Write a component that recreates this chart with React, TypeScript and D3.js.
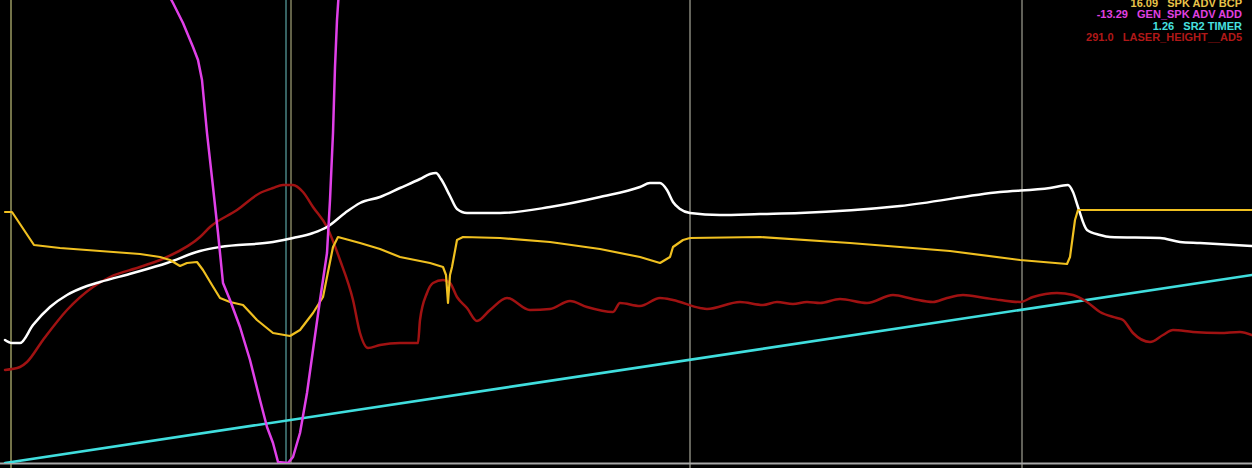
import React from 'react';
import * as d3 from 'd3';

const W = 1252;
const H = 468;

// time (samples) vs. trace level (arbitrary units)
const whiteTrace: [number, number][] = [
  [0, 123], [7, 120], [15, 120], [28, 138], [45, 156], [62, 168], [82, 177], [95, 181], [128, 190],
  [162, 200], [195, 212], [215, 216], [268, 221], [288, 225], [308, 230], [322, 236], [340, 250],
  [355, 260], [375, 266], [395, 275], [415, 284], [425, 289], [431, 290], [436, 284], [445, 267],
  [452, 254], [462, 250], [495, 250], [545, 256], [595, 266], [635, 276], [645, 280], [655, 280],
  [662, 273], [668, 261], [675, 254], [685, 250], [715, 248], [755, 249], [795, 250], [895, 257],
  [995, 271], [1045, 275], [1063, 278], [1068, 271], [1073, 256], [1082, 233], [1095, 228],
  [1105, 226], [1155, 225], [1175, 221], [1195, 220], [1247, 217],
];

const spkAdvBcp: [number, number][] = [
  [0, 251], [7, 251], [29, 218], [55, 215], [95, 212], [135, 209], [155, 206], [165, 203], [175, 197],
  [182, 200], [192, 201], [198, 193], [207, 178], [215, 165], [225, 161], [238, 158], [252, 143],
  [268, 130], [285, 127], [295, 133], [308, 150], [318, 166], [328, 216], [333, 226], [355, 220],
  [375, 214], [395, 206], [425, 200], [438, 196], [441, 188], [443, 160], [445, 188], [447, 196],
  [452, 223], [458, 226], [495, 225], [545, 221], [595, 214], [635, 206], [655, 200], [665, 206],
  [668, 216], [678, 223], [685, 225], [755, 226], [845, 220], [945, 212], [1015, 203], [1062, 199],
  [1065, 206], [1070, 243], [1073, 253], [1247, 253],
];

const genSpkAdvAdd: [number, number][] = [
  [161, 473], [168, 460], [178, 440], [188, 416], [193, 403], [197, 383], [202, 330], [208, 276],
  [213, 230], [218, 180], [225, 163], [235, 136], [245, 103], [255, 63], [262, 36], [268, 20],
  [273, 1], [283, 0], [288, 6], [295, 30], [302, 70], [308, 113], [315, 163], [322, 210], [325, 263],
  [328, 330], [330, 396], [332, 443], [334, 473],
];

const sr2Timer: [number, number][] = [[0, 0], [1247, 188]];

const laserHeight: [number, number][] = [
  [0, 93], [15, 96], [22, 101], [38, 123], [62, 153], [88, 176], [105, 186], [135, 196], [162, 206],
  [195, 226], [205, 236], [232, 253], [255, 270], [268, 275], [278, 278], [288, 278], [298, 271],
  [308, 256], [322, 236], [335, 203], [348, 163], [355, 130], [363, 115], [375, 118], [395, 120],
  [413, 120], [415, 143], [422, 170], [428, 180], [438, 183], [445, 180], [452, 166], [462, 155],
  [472, 142], [485, 153], [502, 165], [525, 153], [545, 154], [565, 162], [582, 156], [608, 151],
  [615, 160], [635, 157], [655, 165], [668, 163], [695, 155], [702, 154], [735, 161], [758, 158],
  [772, 161], [788, 159], [802, 161], [815, 160], [835, 164], [862, 160], [888, 168], [908, 164],
  [928, 161], [942, 165], [958, 168], [980, 165], [995, 163], [1015, 161], [1028, 166], [1052, 170],
  [1068, 168], [1082, 161], [1095, 151], [1112, 145], [1118, 143], [1128, 130], [1145, 121],
  [1158, 128], [1168, 133], [1188, 131], [1215, 130], [1235, 131], [1247, 128],
];

const legendValues = ['16.09', '-13.29', '1.26', '291.0'];
const legendNames = ['SPK ADV BCP', 'GEN_SPK ADV ADD', 'SR2 TIMER', 'LASER_HEIGHT__AD5'];
const legendColors = ['#e8c44a', '#e040e0', '#48e0e0', '#b01818'];

const gridTimes = [6, 685, 1017];
const cursorTimes = [281, 286];
const tickTimes = [289, 1217];
const tickLabels = ['1.000', '1.500'];

export default function App() {
  const left = 5;
  const bottom = 463;
  const x = d3.scaleLinear().domain([0, 1247]).range([left, W]);
  const y = d3.scaleLinear().domain([0, 463]).range([bottom, 0]);

  const lin = d3.line<[number, number]>().x(d => x(d[0])).y(d => y(d[1]));
  const smooth = d3.line<[number, number]>().x(d => x(d[0])).y(d => y(d[1])).curve(d3.curveMonotoneX);

  return (
    <svg width={W} height={H} style={{ position: 'absolute', left: 0, top: 0, background: '#000' }}
      fontFamily="'Liberation Sans', Arial, sans-serif">
      <defs>
        <clipPath id="plot">
          <rect x={0} y={0} width={W} height={bottom} />
        </clipPath>
      </defs>
      <rect x={0} y={0} width={W} height={H} fill="#000" />
      {/* grid */}
      <line x1={x(gridTimes[0])} x2={x(gridTimes[0])} y1={0} y2={H} stroke="#9a9a62" strokeWidth={1.5} />
      <line x1={x(gridTimes[1])} x2={x(gridTimes[1])} y1={0} y2={H} stroke="#c8c8b8" strokeWidth={1} />
      <line x1={x(gridTimes[2])} x2={x(gridTimes[2])} y1={0} y2={H} stroke="#c0c0b0" strokeWidth={1} />
      <line x1={x(cursorTimes[0])} x2={x(cursorTimes[0])} y1={0} y2={bottom} stroke="#6cc4c4" strokeWidth={1} />
      <line x1={x(cursorTimes[1])} x2={x(cursorTimes[1])} y1={0} y2={bottom} stroke="#c4c490" strokeWidth={1} />
      <line x1={0} x2={W} y1={bottom + 0.5} y2={bottom + 0.5} stroke="#a8a8a8" strokeWidth={2} />
      {tickTimes.map((t, i) => (
        <text key={i} x={x(t)} y={476} fill="#9cc8c8" fontSize={11} fontWeight="bold">{tickLabels[i]}</text>
      ))}
      <g clipPath="url(#plot)" fill="none" strokeLinejoin="round" strokeLinecap="round">
        <path d={lin(sr2Timer) || ''} stroke="#40dede" strokeWidth={2.6} />
        <path d={smooth(laserHeight) || ''} stroke="#a01212" strokeWidth={2.5} />
        <path d={smooth(whiteTrace) || ''} stroke="#ffffff" strokeWidth={2.5} />
        <path d={lin(spkAdvBcp) || ''} stroke="#f0c020" strokeWidth={2.2} />
        <path d={lin(genSpkAdvAdd) || ''} stroke="#e040e8" strokeWidth={2.5} />
      </g>
      {legendNames.map((n, i) => (
        <text key={i} x={1242} y={7 + i * 11.3} textAnchor="end" fill={legendColors[i]} fontSize={11} fontWeight="bold">
          {legendValues[i] + '\u00a0\u00a0\u00a0' + n}
        </text>
      ))}
    </svg>
  );
}
